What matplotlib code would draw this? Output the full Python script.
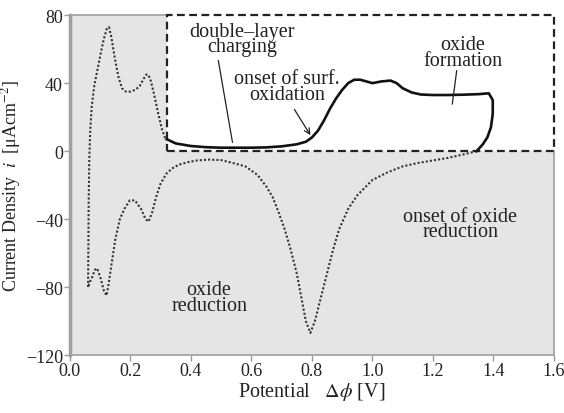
import matplotlib
matplotlib.use("Agg")
import matplotlib.pyplot as plt
import matplotlib.patches as mpatches

plt.rcParams['font.family'] = ['Liberation Serif', 'DejaVu Serif']
plt.rcParams['mathtext.fontset'] = 'stix'

# anodic sweep (dotted part, below ~0.32 V)
anodic_dot_x = [0.060, 0.061, 0.062, 0.064, 0.067, 0.072, 0.080, 0.090, 0.100, 0.112, 0.122, 0.129,
                0.137, 0.148, 0.160, 0.172, 0.185, 0.200, 0.215, 0.230, 0.242, 0.252, 0.259,
                0.268, 0.280, 0.292, 0.304, 0.314, 0.320]
anodic_dot_y = [-80, -55, -30, -5, 12, 26, 38, 47, 56, 66, 72, 73,
                67, 55, 44, 37, 35, 35, 36, 38, 42, 45, 45,
                41, 32, 22, 13, 8, 7]

# anodic sweep (solid part, inside the white box)
anodic_x = [0.320, 0.35, 0.40, 0.45, 0.50, 0.55, 0.60, 0.65, 0.70, 0.75, 0.78, 0.80, 0.82, 0.84,
            0.86, 0.88, 0.90, 0.92, 0.94, 0.96, 0.98, 1.00, 1.03, 1.06, 1.08, 1.10, 1.13, 1.16,
            1.20, 1.25, 1.30, 1.35, 1.385, 1.398, 1.398, 1.392, 1.380, 1.365, 1.345]
anodic_y = [7, 4.5, 3, 2.3, 2, 2, 2, 2.2, 2.8, 4, 5.5, 8, 12, 18,
            25, 31, 36, 40, 42, 42, 41, 40, 41, 41.5, 40, 37, 34.5, 33.3,
            33, 33, 33.2, 33.5, 34, 30, 22, 14, 8, 4, 0]

# cathodic sweep (dotted)
cathodic_x = [1.345, 1.30, 1.25, 1.20, 1.15, 1.10, 1.05, 1.00, 0.95, 0.92, 0.89, 0.87, 0.85,
              0.83, 0.81, 0.795, 0.78, 0.765, 0.75, 0.73, 0.71, 0.69, 0.67, 0.65, 0.62, 0.58,
              0.55, 0.50, 0.46, 0.42, 0.39, 0.36, 0.34, 0.32, 0.30, 0.285, 0.272, 0.260, 0.250,
              0.235, 0.215, 0.198, 0.180, 0.165, 0.150, 0.138, 0.128, 0.121, 0.112, 0.100,
              0.090, 0.082, 0.074, 0.066, 0.060]
cathodic_y = [0, -2, -4, -5.5, -7, -9, -12.5, -17, -26, -34, -46, -58, -72,
              -86, -100, -107, -100, -86, -72, -58, -46, -36, -27, -21, -14, -9,
              -7.5, -5.3, -5, -5.5, -6.5, -8, -10, -13, -19, -27, -36, -41.5, -40,
              -34, -29, -29, -34, -40, -52, -66, -78, -85, -82, -74,
              -69, -70, -74, -77, -80]

# zoom box (white region) bounds
box_x0, box_x1 = 0.32, 1.6
box_y0, box_y1 = 0, 80

x_ticks = [0.0, 0.2, 0.4, 0.6, 0.8, 1.0, 1.2, 1.4, 1.6]
y_ticks = [-120, -80, -40, 0, 40, 80]

fig = plt.figure(figsize=(5.64, 4.14), dpi=100)
ax = fig.add_axes([0.124, 0.140, 0.858, 0.821])
ax.set_facecolor('#e5e5e5')

# white box with dashed outline
ax.add_patch(mpatches.Rectangle((box_x0, box_y0), box_x1 - box_x0, box_y1 - box_y0,
                                facecolor='white', edgecolor='none', zorder=1))
ax.add_patch(mpatches.Rectangle((box_x0, box_y0), box_x1 - box_x0, box_y1 - box_y0,
                                facecolor='none', edgecolor='#222222', linestyle=(0, (3.5, 2)),
                                linewidth=1.6, zorder=4, clip_on=False))

ax.plot(anodic_dot_x, anodic_dot_y, linestyle=(0, (1, 1)), color='#333333', linewidth=1.5, zorder=3)
ax.plot(cathodic_x, cathodic_y, linestyle=(0, (1, 1)), color='#333333', linewidth=1.5, zorder=3)
ax.plot(anodic_x, anodic_y, '-', color='#111111', linewidth=1.9, zorder=5)

ax.set_xlim(0, 1.6)
ax.set_ylim(-120, 80)
ax.set_xticks(x_ticks)
ax.set_xticklabels([f"{v:.1f}" for v in x_ticks])
ax.set_yticks(y_ticks)
ax.set_yticklabels([f"{v}".replace('-', '\u2212') for v in y_ticks])
ax.tick_params(direction='out', length=4, width=1, color='#999999', labelsize=13, pad=1,
               labelcolor='#222222')

for side, spine in ax.spines.items():
    spine.set_color('#a0a0a0')
    spine.set_linewidth(1.2)
ax.spines['left'].set_linewidth(2.5)
ax.spines['top'].set_bounds(0, box_x0)
ax.spines['right'].set_bounds(-120, box_y0)

ax.set_xlabel(r'Potential   $\Delta\phi$ [V]', fontsize=14.5, labelpad=1, color='#222222')
ax.set_ylabel('Current Density  $i$  [\u03bcAcm$^{-2}$]', fontsize=13, labelpad=2, color='#222222')

txt = dict(fontsize=14.5, ha='center', va='center', linespacing=0.75, zorder=6, color='#222222')
ax.text(0.57, 66, 'double\u2013layer\ncharging', **txt)
ax.annotate('', xy=(0.539, 3.5), xytext=(0.489, 55),
            arrowprops=dict(arrowstyle='-', color='#222222', lw=0.9), zorder=6)
ax.text(0.717, 38, 'onset of surf.\noxidation', **txt)
ax.annotate('', xy=(0.80, 8), xytext=(0.737, 26),
            arrowprops=dict(arrowstyle='->', color='#222222', lw=0.9), zorder=6)
ax.text(1.30, 58, 'oxide\nformation', **txt)
ax.annotate('', xy=(1.263, 26), xytext=(1.28, 49),
            arrowprops=dict(arrowstyle='-', color='#222222', lw=0.9), zorder=6)
ax.text(1.29, -43, 'onset of oxide\nreduction', **txt)
ax.text(0.46, -86, 'oxide\nreduction', **txt)

fig.savefig('out.png', dpi=100)
